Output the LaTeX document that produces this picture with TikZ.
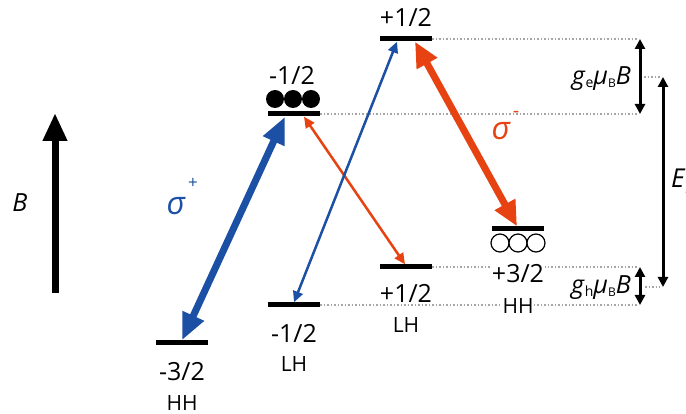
\documentclass[tikz,border=0pt]{standalone}
\usepackage{fontspec}
\setmainfont{Open Sans}
\usetikzlibrary{arrows.meta,calc}
\definecolor{myblue}{RGB}{28,80,164}
\definecolor{myorange}{RGB}{230,66,18}
\begin{document}
\begin{tikzpicture}[x=1pt,y=-1pt,
  lev/.style={fill=black,minimum width=52pt,minimum height=5pt,inner sep=0pt},
  lbl/.style={fill=white,inner sep=1pt,anchor=base,font=\fontsize{25}{25}\selectfont},
  sublbl/.style={fill=white,inner sep=1pt,anchor=base,font=\fontsize{21}{21}\selectfont},
  dots/.style={black!35,dotted,line width=1.5pt},
  filledc/.style={fill=black},
  emptyc/.style={draw=black,fill=white,line width=1.2pt},
  thickblue/.style={myblue,line width=7pt,{Triangle[length=27pt,width=22pt]}-{Triangle[length=27pt,width=22pt]}},
  thickorange/.style={myorange,line width=7pt,{Triangle[length=25pt,width=22pt]}-{Triangle[length=25pt,width=22pt]}},
  thinblue/.style={myblue,line width=2.5pt,{Triangle[length=11pt,width=10pt]}-{Triangle[length=11pt,width=10pt]}},
  thinorange/.style={myorange,line width=2.5pt,{Triangle[length=11pt,width=10pt]}-{Triangle[length=11pt,width=10pt]}},
  dimarrow/.style={black,line width=3pt,{Triangle[length=10pt,width=10pt]}-{Triangle[length=10pt,width=10pt]}},
  sym/.style={font=\fontsize{25}{25}\selectfont\itshape,anchor=base}
]
\clip (0,0) rectangle (686,414);
\fill[white] (0,0) rectangle (686,414);

% B field arrow
\coordinate (bb) at (55,293);
\coordinate (bt) at (55,113);
\draw[line width=7pt,-{Triangle[length=28pt,width=23pt]}] (bb) -- (bt);
\node[sym] (blabel) at (20,212) {B};

% dotted guide lines
\coordinate (d1) at (638,39);
\coordinate (d2) at (638,114);
\coordinate (d3) at (638,267);
\coordinate (d4) at (638,305);
\draw[dots] (432,39) -- (d1);
\draw[dots] (320,114) -- (d2);
\draw[dots] (432,267) -- (d3);
\draw[dots] (320,305) -- (d4);
\draw[dots] (644,77) -- (660,77);
\draw[dots] (645,287) -- (660,287);

% levels
\node[lev] (e1) at (406,39) {};
\node[lev] (e2) at (294,114) {};
\node[lev] (hhm) at (182,343) {};
\node[lev] (lhm) at (294,305) {};
\node[lev] (lhp) at (406,267) {};
\node[lev] (hhp) at (518,229) {};

% electrons / holes
\foreach \x in {275,293,311} \fill[filledc] (\x,99) circle (9pt);
\foreach \x in {500,518,536} \draw[emptyc] (\x,243) circle (9pt);
\node[lev] (hhpbar) at (518,229) {};

% labels
\node[lbl] (t1) at (406,27) {+1/2};
\node[lbl] (t2) at (292,85) {-1/2};
\node[lbl] (t3) at (182,380) {-3/2};
\node[sublbl] (t3b) at (182,410) {HH};
\node[lbl] (t4) at (294,342) {-1/2};
\node[sublbl] (t4b) at (294,371) {LH};
\node[lbl] (t5) at (406,303) {+1/2};
\node[sublbl] (t5b) at (406,333) {LH};
\node[lbl] (t6) at (518,283) {+3/2};
\node[sublbl] (t6b) at (518,313) {HH};

% transitions
\draw[thickblue] (hhm.north) -- ([xshift=-9pt]e2.south);
\draw[thinorange] ([xshift=10pt]e2.south) -- ([xshift=-1pt]lhp.north);
\draw[thinblue] (lhm.north) -- ([xshift=-9pt]e1.south);
\draw[thickorange] ([xshift=9pt]e1.south) -- ([xshift=-1pt]hhp.north);

\node[font=\fontsize{32}{32}\selectfont\itshape,text=myblue,anchor=base,inner sep=0pt] (sp) at (176,215) {σ};
\node[font=\fontsize{17}{17}\selectfont,text=myblue,inner sep=0pt] (spp) at (193,183) {+};
\node[font=\fontsize{32}{32}\selectfont\itshape,text=myorange,anchor=base,inner sep=0pt] (sm) at (501,140) {σ};
\node[font=\fontsize{20}{20}\selectfont,text=myorange,inner sep=0pt] (smm) at (516,114) {-};

% right-hand dimension arrows
\coordinate (ga) at (640,39);
\coordinate (gb) at (640,114);
\coordinate (ha) at (640,267);
\coordinate (hb) at (640,305);
\coordinate (ea) at (663,77);
\coordinate (eb) at (663,287);
\draw[dimarrow] (ga) -- (gb);
\draw[dimarrow] (ha) -- (hb);
\draw[dimarrow] (ea) -- (eb);

\node[anchor=base east,inner sep=0pt] (ge) at (631,85) {\fontsize{25}{25}\selectfont\textit{g}\raisebox{-3pt}{\fontsize{14}{14}\selectfont e}\textit{μ}\raisebox{-3pt}{\fontsize{12}{12}\selectfont B}\textit{B}};
\node[anchor=base east,inner sep=0pt] (gh) at (631,294) {\fontsize{25}{25}\selectfont\textit{g}\raisebox{-3pt}{\fontsize{14}{14}\selectfont h}\textit{μ}\raisebox{-3pt}{\fontsize{12}{12}\selectfont B}\textit{B}};
\node[anchor=base west,inner sep=0pt] (eg) at (671,188) {\fontsize{26}{26}\selectfont\textit{E}\raisebox{-4pt}{\fontsize{14}{14}\selectfont g}};
\end{tikzpicture}
\end{document}
